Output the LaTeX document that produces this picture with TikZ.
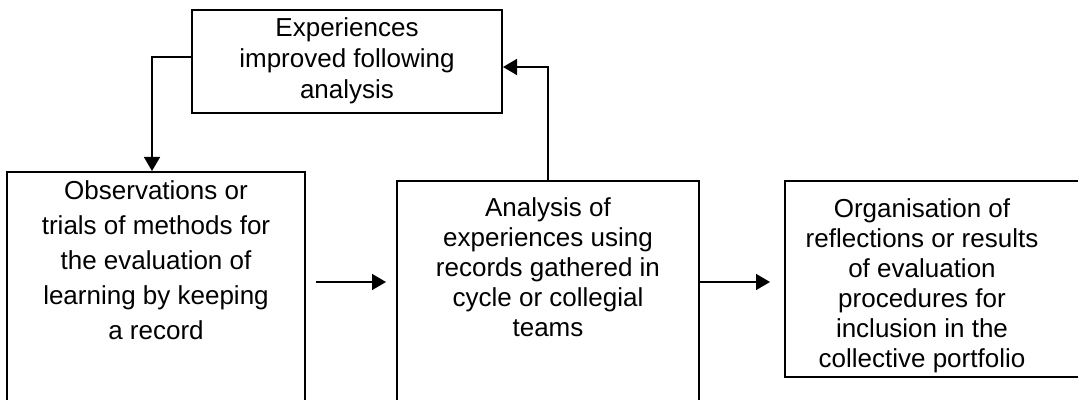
\documentclass[tikz,border=0pt]{standalone}
\usepackage{fontspec}
\setmainfont{Liberation Sans}
\usetikzlibrary{arrows.meta}

\begin{document}
\begin{tikzpicture}[x=0.5pt,y=-0.5pt,
	box/.style={draw=black, fill=none, line width=1pt, shape=rectangle, inner sep=0pt},
	txt/.style={align=center, inner sep=0pt, font=\fontsize{13pt}{#1}\selectfont},
	arr/.style={line width=0.8pt, -{Triangle[length=7pt,width=8pt]}}]
	\useasboundingbox (0,0) rectangle (1078,400);

	\node [box, minimum width=155pt, minimum height=51.5pt] (exp) at (347, 61.5) {};
	\node [box, minimum width=149pt, minimum height=124pt] (obs) at (156, 296) {};
	\node [box, minimum width=151pt, minimum height=119.5pt] (ana) at (548, 300.5) {};
	\node [box, minimum width=151pt, minimum height=98pt] (org) at (936, 279) {};

	\node [txt=15.5pt] (exp-t) at (347, 61) {Experiences\\improved following\\analysis};
	\node [txt=17.5pt] (obs-t) at (156, 260) {Observations or\\trials of methods for\\the evaluation of\\learning by keeping\\a record};
	\node [txt=15pt] (ana-t) at (548, 267) {Analysis of\\experiences using\\records gathered in\\cycle or collegial\\teams};
	\node [txt=15pt] (org-t) at (922, 286) {Organisation of\\reflections or results\\of evaluation\\procedures for\\inclusion in the\\collective portfolio};

	\draw [arr] ([yshift=2.25pt]exp.west) -| ([xshift=-2pt]obs.north);
	\draw [arr] (ana.north) |- ([yshift=-2.75pt]exp.east);
	\draw [arr, shorten <=5pt, shorten >=5pt] (obs.east |- 0,282) -- (ana.west |- 0,282);
	\draw [arr, shorten >=7pt] (ana.east |- 0,282) -- (org.west |- 0,282);
\end{tikzpicture}
\end{document}
